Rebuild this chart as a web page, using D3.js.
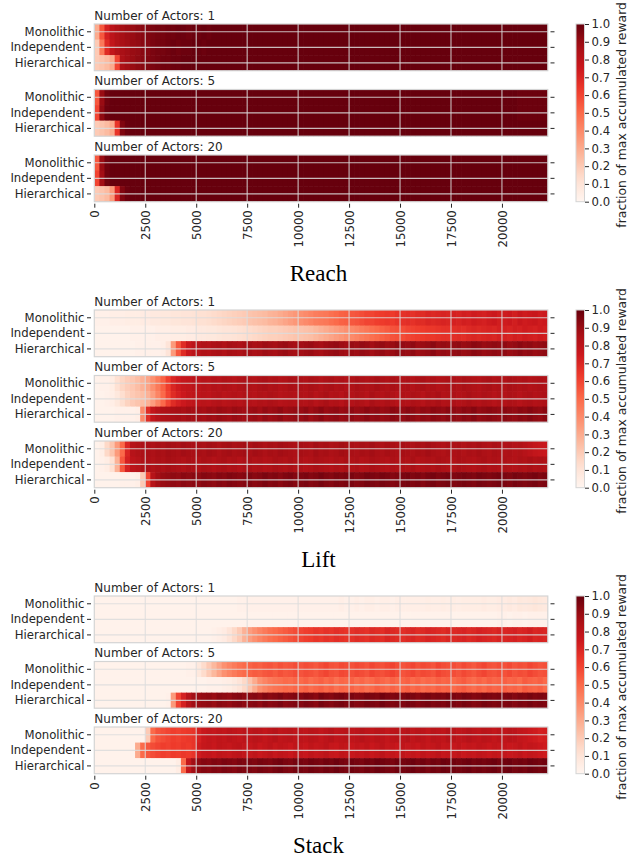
<!DOCTYPE html>
<html><head><meta charset="utf-8">
<script src="https://cdn.jsdelivr.net/npm/d3@7"></script>
<style>body{margin:0;background:#fff} svg{display:block}</style>
</head><body><svg id="c" width="637" height="856"></svg>
<script>
const tasks = ["Reach", "Lift", "Stack"];
const actorCounts = [1, 5, 20];
const methods = ["Monolithic", "Independent", "Hierarchical"];
const xTickValues = [0, 2500, 5000, 7500, 10000, 12500, 15000, 17500, 20000];
const colorbarTicks = [0, 0.1, 0.2, 0.3, 0.4, 0.5, 0.6, 0.7, 0.8, 0.9, 1.0];
const binSize = 250;      // training steps per heatmap column
const stepMax = 22250;

// values: percent of max accumulated reward, one entry per 250-step column (89 columns)
const reachA1Mono = [
30,55,72,80,84,87,89,90,92,93,
95,96,97,97,98,98,99,99,98,99,
99,100,99,100,100,100,100,100,100,100,
100,100,100,100,100,100,100,100,100,100,
100,100,100,100,100,100,100,100,100,100,
100,100,100,100,100,100,100,100,100,100,
100,100,100,100,100,100,100,100,100,100,
100,100,100,100,100,100,100,100,100,100,
100,100,100,100,100,100,100,100,100];
const reachA1Ind = [
20,45,68,78,83,86,88,90,91,93,
94,96,97,97,98,99,98,99,99,100,
100,99,100,100,100,100,100,100,100,100,
100,100,100,100,100,100,100,100,100,100,
100,100,100,100,100,100,100,100,100,100,
100,100,100,100,100,100,100,100,100,100,
100,100,100,100,100,100,100,100,100,100,
100,100,100,100,100,100,100,100,100,100,
100,100,100,100,100,100,100,100,100];
const reachA1Hier = [
20,22,25,30,60,85,88,90,92,93,
95,96,97,98,98,99,99,100,100,100,
100,100,100,100,100,100,100,100,100,100,
100,100,100,100,100,100,100,100,100,100,
100,100,100,100,100,100,100,100,100,100,
100,100,100,100,100,100,100,100,100,100,
100,100,100,100,100,100,100,100,100,100,
100,100,100,100,100,100,100,100,100,100,
100,100,100,100,100,100,100,100,100];
const reachA5Mono = [
55,90,98,100,100,100,100,100,100,100,
100,100,100,100,100,100,100,100,100,100,
100,100,100,100,100,100,100,100,100,100,
100,100,100,100,100,100,100,100,100,100,
100,100,100,100,100,100,100,100,100,100,
100,100,100,100,100,100,100,100,100,100,
100,100,100,100,100,100,100,100,100,100,
100,100,100,100,100,100,100,100,100,100,
100,100,100,99,99,99,99,99,99];
const reachA5Ind = [
60,92,99,100,100,100,100,100,100,100,
100,100,100,100,100,100,100,100,100,100,
100,100,100,100,100,100,100,100,100,100,
100,100,100,100,100,100,100,100,100,100,
100,100,100,100,100,100,100,100,100,100,
100,100,100,100,100,100,100,100,100,100,
100,100,100,100,100,100,100,100,100,100,
100,100,100,100,100,100,100,100,100,100,
100,100,100,99,99,99,99,99,99];
const reachA5Hier = [
20,22,25,30,65,95,99,100,100,100,
100,100,100,100,100,100,100,100,100,100,
100,100,100,100,100,100,100,100,100,100,
100,100,100,100,100,100,100,100,100,100,
100,100,100,100,100,100,100,100,100,100,
100,100,100,100,100,100,100,100,100,100,
100,100,100,100,100,100,100,100,100,100,
100,100,100,100,100,100,100,100,100,100,
100,100,100,100,100,100,100,100,100];
const reachA20Mono = [
55,90,98,100,100,100,100,100,100,100,
100,100,100,100,100,100,100,100,100,100,
100,100,100,100,100,100,100,100,100,100,
100,100,100,100,100,100,100,100,100,100,
100,100,100,100,100,100,100,100,100,100,
100,100,100,100,100,100,100,100,100,100,
100,100,100,100,100,100,100,100,100,100,
100,100,100,100,100,100,100,100,100,100,
100,100,100,100,100,100,100,100,100];
const reachA20Ind = [
60,88,98,100,100,100,100,100,100,100,
100,100,100,100,100,100,100,100,100,100,
100,100,100,100,100,100,100,100,100,100,
100,100,100,100,100,100,100,100,100,100,
100,100,100,100,100,100,100,100,100,100,
100,100,100,100,100,100,100,100,100,100,
100,100,100,100,100,100,100,100,100,100,
100,100,100,100,100,100,100,100,100,100,
100,100,100,100,100,100,100,100,100];
const reachA20Hier = [
20,22,25,35,70,95,99,100,100,100,
100,100,100,100,100,100,100,100,100,100,
100,100,100,100,100,100,100,100,100,100,
100,100,100,100,100,100,100,100,100,100,
100,100,100,100,100,100,100,100,100,100,
100,100,100,100,100,100,100,100,100,100,
100,100,100,100,100,100,100,100,100,100,
100,100,100,100,100,100,100,100,100,100,
100,100,100,100,100,100,100,100,100];

const liftA1Mono = [
3,3,3,4,4,4,5,5,5,6,
6,7,7,8,8,9,9,10,10,11,
12,12,13,14,15,16,17,18,19,20,
22,23,24,25,27,28,30,32,34,36,
38,40,42,44,45,46,48,50,52,53,
55,56,58,60,60,62,63,64,63,65,
66,67,66,68,68,70,69,70,71,70,
72,71,73,72,74,73,72,74,75,73,
74,75,73,76,74,75,76,74,75];
const liftA1Ind = [
2,2,2,2,2,2,2,3,3,3,
3,3,4,4,4,5,5,5,6,6,
7,7,8,8,9,10,10,11,12,13,
14,15,16,17,18,18,19,20,21,22,
22,23,24,26,28,30,32,34,36,38,
40,42,44,46,48,50,52,54,56,57,
58,60,61,62,63,64,64,65,66,66,
67,68,67,69,70,69,70,71,70,72,
72,71,73,72,74,73,72,74,73];
const liftA1Hier = [
2,2,2,2,2,2,2,2,3,3,
3,3,3,4,10,35,55,68,76,80,
82,84,83,85,86,84,87,86,85,87,
88,86,87,89,88,87,89,90,88,87,
88,89,90,88,87,89,90,91,89,88,
90,89,91,90,88,90,91,89,90,92,
91,90,92,89,90,91,93,90,91,90,
91,92,90,91,93,92,90,91,92,91,
92,90,91,93,91,92,90,91,92];
const liftA5Mono = [
2,3,3,5,12,16,19,21,24,28,
32,38,45,52,62,70,74,77,78,80,
80,82,81,83,82,84,83,82,84,85,
84,83,85,86,84,85,83,84,86,85,
85,84,86,85,83,85,86,84,85,83,
84,86,85,84,85,87,85,84,86,85,
84,85,83,85,86,84,85,83,84,85,
85,84,86,85,84,83,85,86,84,85,
84,86,85,84,85,83,84,85,84];
const liftA5Ind = [
2,2,3,4,8,13,17,20,22,24,
28,34,42,50,60,68,72,75,78,79,
80,81,80,82,83,81,82,83,82,84,
83,82,84,83,85,84,82,83,84,83,
84,83,85,82,84,86,83,84,82,85,
83,85,84,82,86,84,83,85,84,82,
84,83,85,84,82,85,84,86,83,84,
85,83,84,86,84,83,85,84,82,84,
83,85,84,82,84,85,83,84,85];
const liftA5Hier = [
2,2,2,2,3,3,3,3,4,40,
68,78,82,84,85,86,87,86,88,87,
88,87,89,88,90,89,88,90,89,88,
89,90,88,91,89,90,92,89,90,91,
90,92,89,91,93,90,91,92,90,91,
92,90,91,93,91,92,90,91,93,92,
91,93,92,90,92,91,93,92,91,93,
92,91,93,92,94,91,92,93,92,91,
93,92,91,93,92,94,92,91,93];
const liftA20Mono = [
2,4,15,22,35,50,70,82,84,85,
86,85,87,86,88,87,86,88,87,86,
87,86,88,87,85,87,88,86,87,88,
86,88,87,85,87,86,88,87,86,85,
87,86,85,88,86,87,85,86,88,87,
86,85,87,86,88,86,85,87,86,85,
87,86,85,87,86,88,86,85,84,86,
85,86,84,86,85,87,85,84,86,85,
84,85,83,84,82,80,78,77,76];
const liftA20Ind = [
2,3,5,12,28,55,72,80,82,84,
85,84,86,85,87,86,85,84,86,85,
84,86,85,83,85,86,84,85,83,85,
86,84,85,83,84,86,85,84,86,84,
85,83,84,86,85,84,83,85,84,86,
84,85,83,84,86,85,84,83,85,84,
85,84,86,83,84,85,84,86,85,84,
84,86,85,84,83,85,86,84,85,84,
85,84,83,85,84,86,84,85,84];
const liftA20Hier = [
2,2,2,2,2,3,3,3,4,20,
60,82,88,90,91,92,91,93,92,93,
92,94,93,92,94,93,95,94,93,94,
95,93,94,96,94,95,93,95,96,94,
95,96,94,95,97,95,94,96,95,96,
96,94,95,97,96,95,97,96,94,95,
96,97,95,96,94,96,97,95,96,97,
95,96,97,96,95,97,96,95,96,97,
96,95,97,96,95,96,97,95,96];

const stackA1Mono = [
2,2,2,2,2,2,2,2,2,2,
2,2,2,2,2,2,2,2,2,2,
2,2,2,2,2,2,2,2,3,3,
3,3,3,3,3,3,3,3,3,3,
3,3,3,3,3,3,3,3,4,3,
3,4,3,4,4,3,4,4,3,4,
4,4,4,4,4,5,4,4,5,4,
5,4,5,5,5,5,6,5,5,6,
6,7,6,8,7,8,9,8,7];
const stackA1Ind = [
2,2,2,2,2,2,2,2,2,2,
2,2,2,2,2,2,2,2,2,2,
2,2,2,2,2,2,2,2,2,2,
2,2,2,2,2,2,2,2,2,2,
2,2,2,2,2,2,2,2,2,2,
2,2,2,2,2,2,2,2,2,2,
2,2,2,2,2,2,2,2,2,2,
2,2,2,2,2,2,2,2,2,3,
3,2,3,3,2,3,3,3,3];
const stackA1Hier = [
2,2,2,2,2,2,2,2,2,2,
2,2,2,2,2,2,2,2,2,2,
2,2,2,3,4,6,10,15,20,28,
34,38,42,45,48,50,52,54,56,58,
60,62,63,65,64,66,65,67,66,65,
66,68,67,66,69,68,67,70,69,68,
67,69,70,68,69,71,70,69,68,70,
69,70,71,69,70,72,71,70,69,71,
70,71,72,70,71,73,70,71,70];
const stackA5Mono = [
2,2,2,2,2,2,2,2,2,2,
2,2,2,2,2,2,2,2,3,3,
8,14,20,26,32,38,42,45,48,50,
52,54,53,55,56,54,57,55,56,58,
56,58,57,55,58,60,57,56,59,58,
57,59,58,56,60,58,57,59,61,58,
56,58,60,57,59,58,56,60,58,57,
58,56,59,57,55,58,60,57,56,58,
57,59,56,58,57,60,58,56,57];
const stackA5Ind = [
2,2,2,2,2,2,2,2,2,2,
2,2,2,2,2,2,2,2,2,2,
2,2,3,3,3,4,5,7,10,15,
22,30,38,42,45,47,48,50,49,51,
50,52,49,51,53,50,52,48,51,50,
52,49,51,48,50,53,51,49,52,50,
51,53,50,52,49,51,50,53,51,52,
50,52,54,51,49,52,50,53,51,52,
53,51,52,50,54,52,51,53,50];
const stackA5Hier = [
2,2,2,2,2,2,2,2,2,2,
2,2,2,2,3,35,60,72,82,88,
90,91,92,90,93,92,91,93,94,92,
93,94,92,95,93,94,96,93,94,95,
94,96,95,93,97,95,94,96,97,95,
96,94,95,97,96,95,98,96,95,96,
95,97,96,94,96,97,95,96,95,97,
96,95,97,96,94,95,97,96,95,96,
95,96,94,96,95,97,95,96,95];
const stackA20Mono = [
2,2,2,2,2,2,2,2,2,2,
20,50,56,58,60,62,61,63,64,65,
72,76,78,77,79,78,80,79,78,80,
79,81,80,78,80,82,79,80,81,79,
80,79,81,80,78,80,82,79,80,81,
79,80,82,80,79,81,80,78,80,81,
80,82,79,81,80,78,81,80,79,82,
81,79,80,82,80,79,81,80,78,80,
79,81,80,78,77,75,74,72,73];
const stackA20Ind = [
2,2,2,2,2,2,2,2,30,50,
55,58,60,62,61,63,62,64,63,65,
74,77,78,76,79,78,77,79,80,78,
77,79,76,78,80,77,79,78,76,79,
78,76,79,77,78,80,77,76,79,78,
76,78,77,79,76,78,80,77,78,76,
79,77,78,76,79,77,78,80,77,78,
77,79,76,78,77,79,78,76,78,77,
78,76,77,79,76,78,77,75,74];
const stackA20Hier = [
2,2,2,2,2,2,2,2,2,2,
2,2,2,2,2,2,5,50,78,88,
92,94,93,95,94,96,95,94,96,95,
96,95,97,96,95,97,98,96,95,97,
97,96,98,97,96,98,97,99,97,96,
98,97,96,98,97,99,98,97,96,98,
97,98,99,97,98,96,98,97,99,98,
98,97,98,99,97,98,97,98,99,97,
98,99,97,98,97,99,98,97,98];

const table = {
  Reach: [[reachA1Mono, reachA1Ind, reachA1Hier], [reachA5Mono, reachA5Ind, reachA5Hier], [reachA20Mono, reachA20Ind, reachA20Hier]],
  Lift:  [[liftA1Mono, liftA1Ind, liftA1Hier], [liftA5Mono, liftA5Ind, liftA5Hier], [liftA20Mono, liftA20Ind, liftA20Hier]],
  Stack: [[stackA1Mono, stackA1Ind, stackA1Hier], [stackA5Mono, stackA5Ind, stackA5Hier], [stackA20Mono, stackA20Ind, stackA20Hier]]
};

// ---------- drawing ----------
const svg = d3.select("#c");
const FONT = "'DejaVu Sans', sans-serif";
const TXT = "#262626";
const TICK_FS = 11.7;
const sectionTop = [24, 310, 596];
const panelOffsets = [0, 65.5, 131];
const panelH = 46.7;
const x = d3.scaleLinear().domain([0, stepMax]).range([94.3, 547.8]);
const redsStops = ["#fff5f0","#fee0d2","#fcbba1","#fc9272","#fb6a4a","#ef3b2c","#cb181d","#a50f15","#67000d"];
const color = d3.scaleLinear().domain(redsStops.map((d, i) => i / (redsStops.length - 1)))
  .range(redsStops).interpolate(d3.interpolateRgb).clamp(true);

const defs = svg.append("defs");
const grad = defs.append("linearGradient").attr("id", "cbgrad")
  .attr("x1", 0).attr("y1", 1).attr("x2", 0).attr("y2", 0);
d3.range(0, 1.0001, 0.05).forEach(t => grad.append("stop").attr("offset", t).attr("stop-color", color(t)));

tasks.forEach((task, ti) => {
  actorCounts.forEach((ac, ai) => {
    const top = sectionTop[ti] + panelOffsets[ai];
    const y = d3.scaleBand().domain(methods).range([top, top + panelH]);
    const clipId = `clip-${ti}-${ai}`;
    defs.append("clipPath").attr("id", clipId).append("rect")
      .attr("x", x(0)).attr("y", top).attr("width", x(stepMax) - x(0)).attr("height", panelH);
    const g = svg.append("g");
    const cellsG = g.append("g").attr("clip-path", `url(#${clipId})`);
    methods.forEach((m, mi) => {
      const vals = table[task][ai][mi];
      cellsG.selectAll(null).data(vals).join("rect")
        .attr("x", (d, i) => x(i * binSize))
        .attr("y", y(m))
        .attr("width", (d, i) => x((i + 1) * binSize) - x(i * binSize) + 0.7)
        .attr("height", y.bandwidth() + 0.5)
        .attr("fill", d => color(d / 100));
    });
    // grid
    g.selectAll(null).data(xTickValues.filter(v => v > 0)).join("line")
      .attr("x1", d => x(d)).attr("x2", d => x(d))
      .attr("y1", top).attr("y2", top + panelH)
      .attr("stroke", "#dcdcdc").attr("stroke-opacity", 0.85).attr("stroke-width", 1.1);
    g.selectAll(null).data(methods).join("line")
      .attr("x1", x(0)).attr("x2", x(stepMax))
      .attr("y1", d => y(d) + y.bandwidth() / 2).attr("y2", d => y(d) + y.bandwidth() / 2)
      .attr("stroke", "#dcdcdc").attr("stroke-opacity", 0.85).attr("stroke-width", 1.1);
    g.append("rect").attr("x", x(0)).attr("y", top)
      .attr("width", x(stepMax) - x(0)).attr("height", panelH)
      .attr("fill", "none").attr("stroke", "#d4d4d4").attr("stroke-width", 1.2);

    // y axes
    const ya = g.append("g").attr("transform", "translate(91,0)")
      .call(d3.axisLeft(y).tickSize(4).tickPadding(2.5));
    ya.select(".domain").remove();
    ya.selectAll("text").attr("font-family", FONT).attr("font-size", TICK_FS).attr("fill", TXT);
    ya.selectAll("line").attr("stroke", TXT);
    const yr = g.append("g").attr("transform", "translate(550.5,0)")
      .call(d3.axisRight(y).tickSize(4).tickFormat(""));
    yr.select(".domain").remove();
    yr.selectAll("line").attr("stroke", TXT);

    // title
    g.append("text").attr("x", x(0)).attr("y", top - 4.5)
      .attr("font-family", FONT).attr("font-size", 12).attr("fill", TXT)
      .text(`Number of Actors: ${ac}`);

    if (ai === actorCounts.length - 1) {
      const xa = g.append("g").attr("transform", `translate(0,${top + panelH + 2})`)
        .call(d3.axisBottom(x).tickValues(xTickValues).tickSize(4).tickFormat(d3.format("d")));
      xa.select(".domain").remove();
      xa.selectAll("line").attr("stroke", TXT);
      xa.selectAll("text")
        .attr("font-family", FONT).attr("font-size", TICK_FS).attr("fill", TXT)
        .attr("transform", "rotate(-90)").attr("text-anchor", "end")
        .attr("x", -6.5).attr("y", 0).attr("dy", "0.35em");
    }
  });

  // colorbar
  const cbTop = sectionTop[ti], cbBot = sectionTop[ti] + panelOffsets[2] + panelH;
  const cb = svg.append("g");
  cb.append("rect").attr("x", 576).attr("y", cbTop).attr("width", 8.5).attr("height", cbBot - cbTop)
    .attr("fill", "url(#cbgrad)").attr("stroke", "#d4d4d4").attr("stroke-width", 1);
  const cbY = d3.scaleLinear().domain([0, 1]).range([cbBot, cbTop]);
  const cba = cb.append("g").attr("transform", "translate(585,0)")
    .call(d3.axisRight(cbY).tickValues(colorbarTicks).tickFormat(d3.format(".1f")).tickSize(4).tickPadding(2.5));
  cba.select(".domain").remove();
  cba.selectAll("line").attr("stroke", TXT);
  cba.selectAll("text").attr("font-family", FONT).attr("font-size", TICK_FS).attr("fill", TXT);
  cb.append("text").attr("transform", `translate(626,${(cbTop + cbBot) / 2 + 2}) rotate(-90)`)
    .attr("text-anchor", "middle").attr("font-family", FONT).attr("font-size", 12.4).attr("fill", TXT)
    .text("fraction of max accumulated reward");

  // section title
  svg.append("text").attr("x", 318.5).attr("y", sectionTop[ti] + 256.5)
    .attr("text-anchor", "middle").attr("font-family", "'Liberation Serif', 'Times New Roman', serif")
    .attr("font-size", 23).attr("fill", "#000").text(task);
});
</script></body></html>
